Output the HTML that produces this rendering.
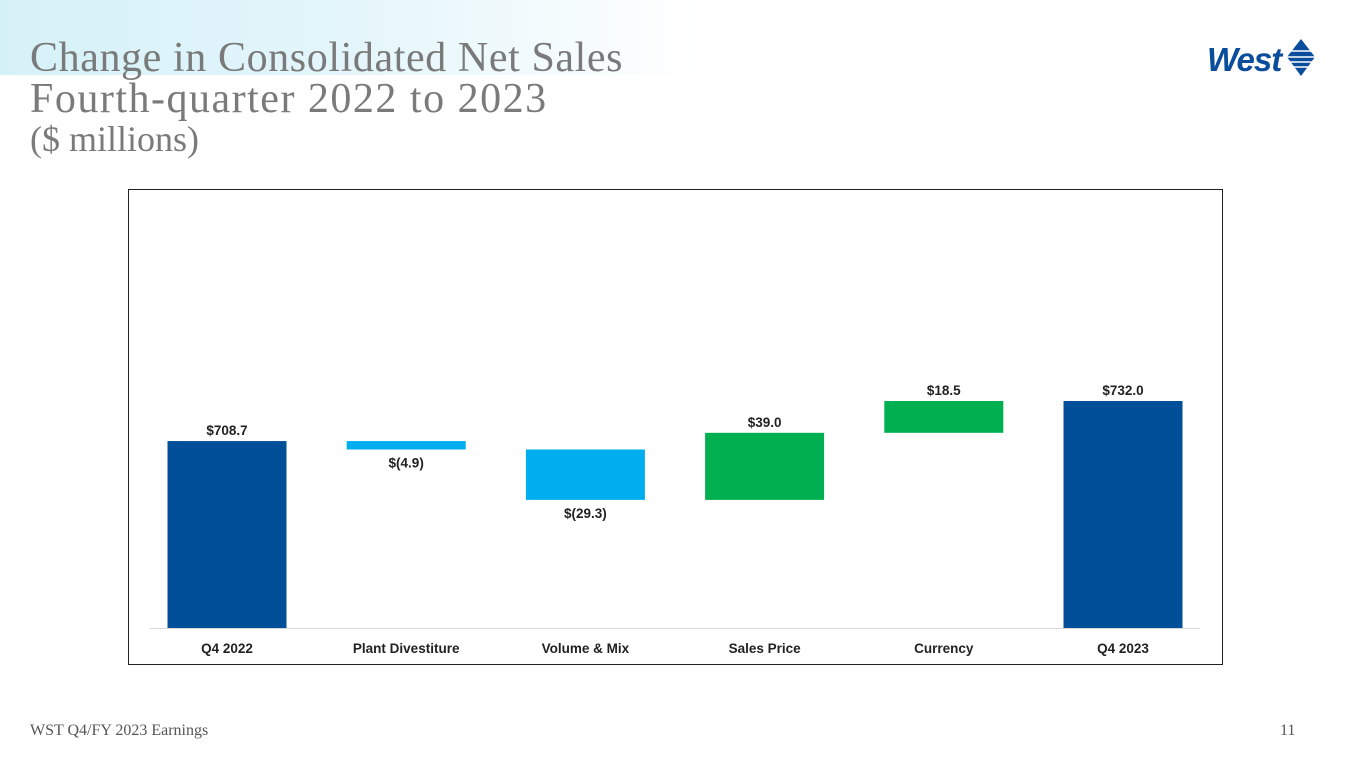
<!DOCTYPE html>
<html><head><meta charset="utf-8"><style>
body{margin:0;width:1365px;height:768px;overflow:hidden;background:#fff;font-family:"Liberation Sans",sans-serif;position:relative}
.bg{position:absolute;left:0;top:0;width:700px;height:75px;background:linear-gradient(90deg,#d5f1f8 0%,#e4f6fb 50%,rgba(255,255,255,0) 100%)}
.t{position:absolute;left:30px;font-family:"Liberation Serif",serif;color:#7a7a7a;white-space:nowrap}
</style></head><body>
<div class="bg"></div>
<div class="t" style="top:34px;font-size:42px;letter-spacing:0.6px">Change in Consolidated Net Sales</div>
<div class="t" style="top:75px;font-size:42px;letter-spacing:1.5px">Fourth-quarter 2022 to 2023</div>
<div class="t" style="top:118px;font-size:36px">($ millions)</div>
<svg style="position:absolute;left:1205px;top:36px" width="115" height="46">
<text x="2" y="35" font-family="Liberation Sans" font-weight="bold" font-style="italic" font-size="33" fill="#0a4d9c" letter-spacing="-1">West</text>
<polygon points="96,3 110,21 96,40 82,21" fill="#0a4d9c"/>
<g stroke="#fff" stroke-width="1.5"><line x1="84" y1="15" x2="108" y2="15"/><line x1="82" y1="21" x2="110" y2="21"/><line x1="84" y1="26" x2="108" y2="26"/><line x1="87" y1="31" x2="105" y2="31"/></g>
</svg>
<svg id="chart" style="position:absolute;left:0;top:0" width="1365" height="768">
<rect x="128.5" y="189.5" width="1094" height="475" fill="#fff" stroke="#222" stroke-width="1"/>
<line x1="150" y1="628.5" x2="1200" y2="628.5" stroke="#d9d9d9"/>
</svg>
<div style="position:absolute;left:30px;top:722px;font-family:'Liberation Serif',serif;font-size:16px;color:#555">WST Q4/FY 2023 Earnings</div>
<div style="position:absolute;left:1280px;top:722px;font-family:'Liberation Serif',serif;font-size:16px;color:#555">11</div>
<script>
const categories=["Q4 2022","Plant Divestiture","Volume & Mix","Sales Price","Currency","Q4 2023"];
const changes=[708.7,-4.9,-29.3,39.0,18.5,732.0];
const kinds=["total","delta","delta","delta","delta","total"];
const valueLabels=["$708.7","$(4.9)","$(29.3)","$39.0","$18.5","$732.0"];
const yMin=600,yMax=830;
const svg=document.getElementById('chart');
const NS='http://www.w3.org/2000/svg';
function y(v){return 628-(v-yMin)*(628-401)/(732-600);}
function xc(i){return 227+i*179.2;}
let run=0;const bw=119;
categories.forEach((c,i)=>{
 let a,b,col;
 if(kinds[i]==="total"){a=yMin;b=changes[i];run=changes[i];col="#004f98";}
 else{a=run;b=run+changes[i];run=b;col=changes[i]<0?"#00aeef":"#00b050";}
 const top=y(Math.max(a,b)),bot=y(Math.min(a,b));
 const r=document.createElementNS(NS,'rect');
 r.setAttribute('x',xc(i)-bw/2);r.setAttribute('y',top);r.setAttribute('width',bw);r.setAttribute('height',bot-top);r.setAttribute('fill',col);
 
 
 svg.appendChild(r);
 const t=document.createElementNS(NS,'text');
 const neg=changes[i]<0;
 t.setAttribute('x',xc(i));t.setAttribute('y',neg?bot+18:top-6);
 t.setAttribute('text-anchor','middle');t.setAttribute('font-size','13.5');t.setAttribute('font-weight','bold');t.setAttribute('fill','#222');
 t.textContent=valueLabels[i];
 
 
 svg.appendChild(t);
 const l=document.createElementNS(NS,'text');
 l.setAttribute('x',xc(i));l.setAttribute('y',653);
 l.setAttribute('text-anchor','middle');l.setAttribute('font-size','13.5');l.setAttribute('font-weight','bold');l.setAttribute('fill','#222');
 l.textContent=c;
 
 
 svg.appendChild(l);
});
</script>
</body></html>
